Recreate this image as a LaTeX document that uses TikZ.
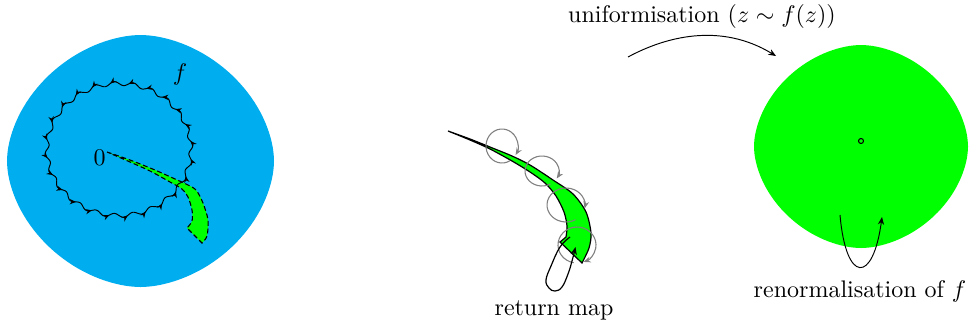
\documentclass[tikz,border=0pt]{standalone}
\usetikzlibrary{arrows.meta,decorations.markings}
\definecolor{blobblue}{RGB}{0,174,239}
\definecolor{blobgreen}{RGB}{0,255,0}
\begin{document}
\begin{tikzpicture}[x=0.41667pt,y=0.41667pt,
  declare function={spw(\u)=sign(\u)*pow(abs(\u)+0.00001,1.1);},
  tip/.style={-{Stealth[length=3.2pt,width=2.6pt]}},
  looparrow/.style={gray,line width=0.45pt,-{Stealth[length=3pt,width=2.4pt]}},
  wavy/.style={line width=0.4pt,postaction={decorate},
    decoration={markings,mark=between positions 0.02 and 1 step 0.041667 with {\arrow{Stealth[length=2.6pt,width=2.2pt]}}}},
  dashedge/.style={dash pattern=on 2pt off 1.2pt,line width=0.45pt},
  lab/.style={anchor=base,inner sep=0pt}]
\useasboundingbox (0,0) rectangle (972,324);

% left blob
\fill[blobblue] plot[domain=0:360,samples=145,variable=\t]
  ({140.5+133.5*spw(cos(\t))},{163+126*spw(sin(\t))}) -- cycle;

% green slice (left)
\fill[blobgreen] plot[smooth] coordinates {(107,172) (130,164) (155,154) (175,145) (186,140) (196,134) (203,121) (208,104) (207,88) (202,81)}
  -- plot[smooth] coordinates {(187,96) (192,103) (192,114) (188,127) (182,135) (170,142) (150,153) (130,162) (107,172)} -- cycle;
\draw[dashedge] plot[smooth] coordinates {(107,172) (130,164) (155,154) (175,145) (186,140) (196,134) (203,121) (208,104) (207,88) (202,81)}
  -- plot[smooth] coordinates {(187,96) (192,103) (192,114) (188,127) (182,135) (170,142) (150,153) (130,162) (107,172)};

% wavy circle
\draw[wavy] plot[domain=0:360,samples=289,variable=\t]
  ({119+(72+2*sin(24*\t))*cos(\t)},{174.5+(66+2*sin(24*\t))*sin(\t)}) -- cycle;

\node[lab] (zero) at (99.5,159) {$0$};
\node[lab] (flab) at (180,244) {$f$};

% middle crescent
\filldraw[fill=blobgreen,draw=black,line width=0.5pt]
  plot[smooth] coordinates {(448,193) (470,185) (490,177) (512,168) (530,159) (553,144) (573,130) (586,112) (591,91) (589,76) (582,61)}
  -- (560,82)
  -- plot[smooth] coordinates {(566,87) (567,98) (564,112) (556,128) (545,141) (530,152) (512,163) (490,175) (470,184) (448,193)} -- cycle;

% grey loops
\coordinate (c1) at (502,178);
\coordinate (c2) at (542,153);
\coordinate (c3) at (566,119);
\coordinate (c4) at (577,79);
\draw[looparrow] ([shift={(-60:16 and 17)}]c1) arc[start angle=-60,end angle=-392,x radius=16,y radius=17];
\draw[looparrow] ([shift={(-60:17 and 15)}]c2) arc[start angle=-60,end angle=-390,x radius=17,y radius=15];
\draw[looparrow] ([shift={(-60:19 and 17)}]c3) arc[start angle=-60,end angle=-372,x radius=19,y radius=17];
\draw[looparrow] ([shift={(-100:19 and 18)}]c4) arc[start angle=-100,end angle=-430,x radius=19,y radius=18];

% return map loop
\draw[tip,line width=0.5pt] plot[smooth,tension=0.7] coordinates {(570,87) (560,77) (551,58) (546,44) (549,36) (555,33) (562,37) (568,50) (572,63) (575.5,77)};
\node[lab] (ret) at (554,9) {return map};

% uniformisation arrow
\coordinate (ua) at (628,267);
\coordinate (ub) at (776,268);
\draw[tip] (ua) .. controls (665,287) and (720,302) .. (ub);
\node[lab] (uni) at (702,302) {uniformisation $(z\sim f(z))$};

% right blob
\fill[blobgreen] plot[domain=0:360,samples=145,variable=\t]
  ({861+107*spw(cos(\t))},{177.5+101.5*spw(sin(\t))}) -- cycle;
\draw[line width=0.45pt] (861,183) circle[radius=2.5];

% renormalisation arrow
\coordinate (ra) at (840,109);
\coordinate (rb) at (882,107);
\draw[tip] (ra) .. controls (846,40) and (873,40) .. (rb);
\node[lab] (ren) at (860,27) {renormalisation of $f$};
\end{tikzpicture}
\end{document}
